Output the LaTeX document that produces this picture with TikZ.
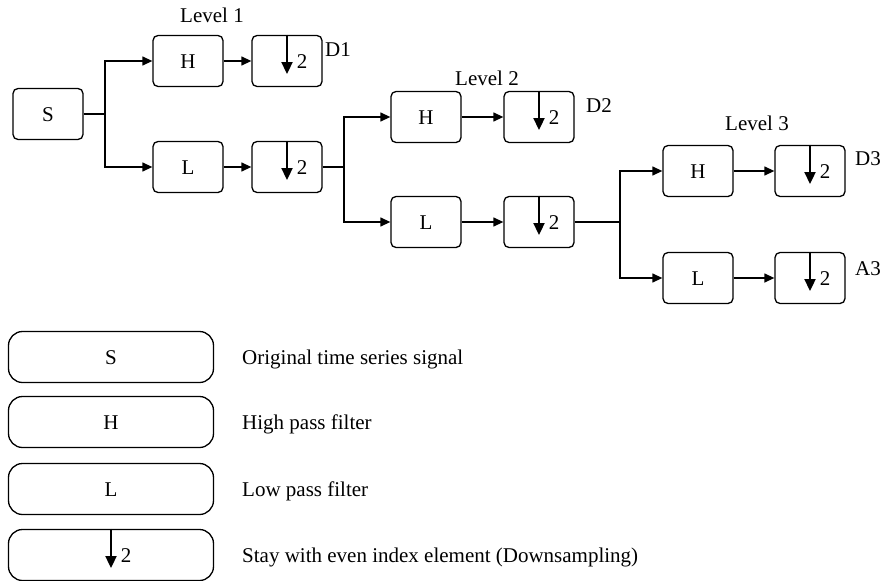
\documentclass[tikz,border=0pt]{standalone}
\usepackage{fontspec}
\setmainfont{Liberation Serif}
\usetikzlibrary{arrows.meta,calc}

\begin{document}
\begin{tikzpicture}[x=1pt,y=-1pt,font=\fontsize{21}{24}\selectfont]
    % `block' is used by the S, H and L filters and the downsampling boxes.
    % `key' is used for the wide boxes of the legend.
    % `wire' and `feed' are the plain and arrowed connectors.
    \tikzstyle{block} = [draw,line width=1.3pt,rounded corners=5pt,minimum width=70pt,minimum height=51pt,text height=14pt,text depth=0pt]
    \tikzstyle{key} = [draw,line width=1.3pt,rounded corners=14pt,minimum width=205pt,minimum height=51pt,text height=14pt,text depth=0pt]
    \tikzstyle{wire} = [line width=1.3pt]
    \tikzstyle{feed} = [line width=1.3pt,-{Triangle[length=10pt,width=9pt]}]
    \tikzstyle{drop} = [line width=2.3pt,-{Triangle[length=12pt,width=11pt]}]
    \tikzstyle{tag} = [inner sep=0pt,text height=14pt,text depth=0pt]
    \useasboundingbox (0,0) rectangle (881,581);
    %
    % Level 1.
    \node[block] (s) at (48,114) {S};
    \node[block] (h1) at (188,61) {H};
    \node[block] (dh1) at (287,61) {};
    \node[block] (l1) at (188,167) {L};
    \node[block] (dl1) at (287,167) {};
    % Level 2.
    \node[block] (h2) at (426,117) {H};
    \node[block] (dh2) at (539,117) {};
    \node[block] (l2) at (426,222) {L};
    \node[block] (dl2) at (539,222) {};
    % Level 3.
    \node[block] (h3) at (698,171) {H};
    \node[block] (dh3) at (810,171) {};
    \node[block] (l3) at (698,278) {L};
    \node[block] (dl3) at (810,278) {};
    %
    \node[tag] (lev1) at (212,15) {Level 1};
    \node[tag] (lev2) at (487,78) {Level 2};
    \node[tag] (lev3) at (757,123) {Level 3};
    \node[tag] (dd1) at (338,49) {D1};
    \node[tag] (dd2) at (599,105) {D2};
    \node[tag] (dd3) at (868,158) {D3};
    \node[tag] (aa3) at (868,268) {A3};
    %
    % Branch points.
    \coordinate (b1) at (105,114);
    \coordinate (b2) at (344,167);
    \coordinate (b3) at (620,222);
    \draw[wire] (s.east) -- (b1);
    \draw[feed] (b1) |- (h1.west);
    \draw[feed] (b1) |- (l1.west);
    \draw[feed] (h1) -- (dh1);
    \draw[feed] (l1) -- (dl1);
    \draw[wire] (dl1.east) -- (b2);
    \draw[feed] (b2) |- (h2.west);
    \draw[feed] (b2) |- (l2.west);
    \draw[feed] (h2) -- (dh2);
    \draw[feed] (l2) -- (dl2);
    \draw[wire] (dl2.east) -- (b3);
    \draw[feed] (b3) |- (h3.west);
    \draw[feed] (b3) |- (l3.west);
    \draw[feed] (h3) -- (dh3);
    \draw[feed] (l3) -- (dl3);
    %
    % Legend.
    \node[key] (ks) at (111,357) {S};
    \node[key] (kh) at (111,422) {H};
    \node[key] (kl) at (111,489) {L};
    \node[key] (kd) at (111,555) {};
    \node[tag,anchor=west] (ts) at (242,357) {Original time series signal};
    \node[tag,anchor=west] (th) at (242,422) {High pass filter};
    \node[tag,anchor=west] (tl) at (242,489) {Low pass filter};
    \node[tag,anchor=west] (td) at (242,555) {Stay with even index element (Downsampling)};
    %
    % Downsampling arrows.
    \foreach \d in {dh1,dl1,dh2,dl2,dh3,dl3,kd} {
      \draw[drop] (\d.north) -- ($(\d.center)+(0,13)$);
      \node[tag] (\d-two) at ($(\d.center)+(15,0)$) {2};
    }
\end{tikzpicture}
\end{document}
